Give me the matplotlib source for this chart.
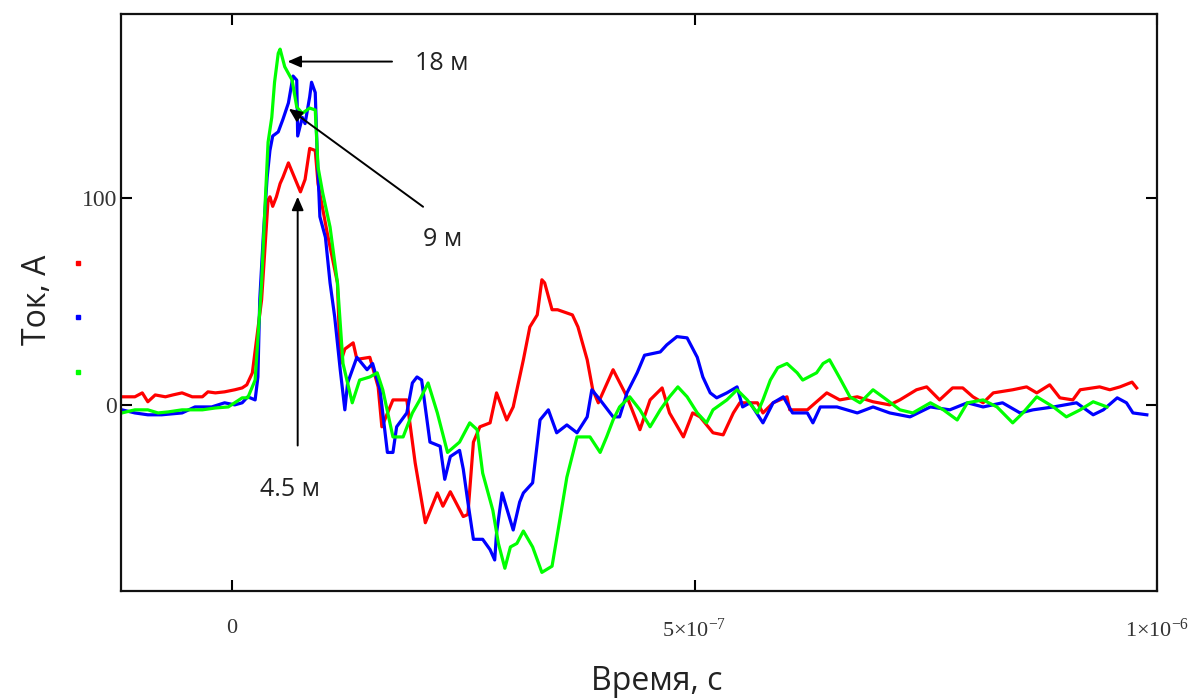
import matplotlib
matplotlib.use("Agg")
import matplotlib.pyplot as plt
from matplotlib.lines import Line2D
import numpy as np

plt.rcParams['mathtext.fontset'] = 'custom'
plt.rcParams['mathtext.rm'] = 'Liberation Serif'
plt.rcParams['mathtext.it'] = 'Liberation Serif:italic'

# time in ns, current in A
red_t = [-119, -105, -97, -91, -83, -72, -64, -54, -43, -32, -26, -18, -8, 3, 11, 16, 22,
         32, 39, 41, 44, 48, 52, 55, 61, 74, 79, 84, 90, 93, 103, 114, 117, 122, 131, 135, 149,
         158, 162, 174, 189, 198, 209, 222, 228, 236, 250, 255, 261, 268, 279, 286, 297, 304,
         315, 322, 330, 335, 338, 346, 352, 368, 374, 384, 390, 396, 412, 427, 441, 452, 465,
         473, 488, 498, 506, 520, 531, 542, 549, 568, 574, 585, 600, 603, 622, 643, 657, 676,
         693, 711, 722, 740, 751, 765, 779, 790, 801, 812, 823, 844, 859, 870, 884, 895, 909,
         917, 938, 949, 960, 973, 978]
red_i = [3.9, 3.9, 5.8, 1.5, 4.8, 3.9, 4.8, 5.8, 3.9, 3.9, 6.3, 5.8, 6.3, 7.3, 8.2, 9.7, 15.5,
         50.8, 99, 100.6, 96, 100.6, 107, 110, 117, 103, 109, 124, 123, 107, 83, 59, 20, 27, 30,
         22, 23, 8.7, -10.6, 2.4, 2.4, -28, -57, -42.6, -49, -42, -54, -53, -18, -10.6, -8.7,
         5.8, -7.3, -1, 21.8, 37.7, 43.5, 60.5, 59, 46, 46, 43.5, 37.7, 21.8, 7.3, 1, 17, 3.9,
         -12, 2.4, 8.2, -3.9, -15.5, -3.9, -5.8, -13.5, -14.5, -3.9, 1, 1, -3.9, 1, 3.9, -2.4,
         -2.4, 5.8, 2.4, 3.9, 1.5, 0, 2.4, 7.3, 8.7, 2.4, 8.2, 8.2, 3.9, 1, 5.8, 7.3, 8.7, 5.8,
         9.7, 3.4, 2.4, 7.3, 8.7, 7.3, 8.7, 11, 8.2]

blue_t = [-119, -105, -91, -76, -54, -40, -22, -8, 3, 11, 17, 25, 28, 30, 34, 38, 41, 44, 50,
          55, 61, 66, 70, 71, 76, 79, 84, 86, 90, 92, 95, 101, 106, 111, 117, 122, 125, 135,
          146, 152, 160, 168, 174, 178, 189, 195, 200, 205, 214, 225, 230, 236, 246, 250, 255,
          261, 271, 279, 284, 286, 292, 304, 311, 315, 325, 333, 342, 351, 362, 373, 384, 389,
          398, 412, 419, 427, 438, 446, 463, 470, 481, 492, 503, 509, 517, 524, 535, 546, 552,
          560, 574, 585, 596, 606, 622, 628, 636, 654, 676, 693, 711, 733, 755, 776, 795, 812,
          833, 852, 866, 888, 913, 931, 942, 957, 967, 974, 989]
blue_i = [-2.4, -3.9, -4.8, -4.8, -3.9, -1, -1, 1, 0, 1, 3.9, 2.4, 13.5, 50.8, 83, 110, 123,
          130, 132, 138, 146, 159, 157, 130, 139, 136, 149, 156, 151, 123, 91, 81, 59, 42.6, 17,
          -2.4, 10.6, 23, 17, 20, 7.3, -23, -23, -10.6, -3.9, 10.6, 13.5, 12, -18, -20, -36,
          -25, -22, -31, -47, -65, -65, -70, -75, -62, -42.6, -60.5, -47, -42.6, -37.7, -7.3,
          -2.4, -13.5, -9.7, -13.5, -5.8, 7.3, 2.4, -5.8, -5.8, 5.8, 15.5, 24, 25.6, 29, 33,
          32.4, 23, 13.5, 5.8, 3.4, 5.8, 8.7, -1, 1, -8.7, 1, 3.9, -3.9, -3.9, -8.7, -1, -1,
          -3.9, -1, -3.9, -5.8, -1, -2.4, 1, -1, 1, -3.9, -2.4, -1, 1, -4.8, -2.4, 3.4, 1, -3.9,
          -4.8]

green_t = [-119, -105, -91, -80, -69, -54, -32, -18, -4, 11, 17, 25, 32, 36, 39, 43, 46, 50,
           52, 57, 65, 70, 76, 84, 90, 93, 98, 106, 114, 120, 130, 138, 149, 157, 163, 174, 185,
           195, 203, 212, 222, 233, 246, 257, 265, 271, 282, 288, 295, 301, 308, 315, 325, 335,
           346, 355, 362, 373, 387, 398, 405, 412, 419, 430, 441, 452, 463, 473, 482, 492, 503,
           513, 520, 535, 546, 557, 568, 574, 582, 590, 600, 611, 617, 632, 639, 646, 657, 668,
           679, 693, 708, 722, 736, 755, 769, 784, 795, 812, 827, 844, 855, 870, 888, 902, 917,
           931, 946]
green_i = [-3.9, -2.4, -2.4, -3.9, -3.4, -2.4, -2.4, -1.5, -1, 3.4, 3.4, 12, 59, 99, 127, 139,
           156, 170, 172, 163.5, 157, 144, 141, 143.5, 142.6, 115, 102.6, 86, 59, 20, 1, 12,
           13.5, 15.5, 7.3, -15.5, -15.5, -3.9, 2.4, 10.6, -3.9, -23, -18, -8.7, -12, -33, -51,
           -67, -79, -68.7, -67, -61, -68.7, -81, -78, -54, -35, -15.5, -15.5, -23, -15.5, -7.3,
           -1, 3.9, -2.4, -10.6, -2.4, 3.9, 8.7, 3.9, -3.9, -8.7, -2.4, 2.4, 7.3, 2.4, -3.9,
           2.4, 12, 18, 20, 15.5, 12, 15.5, 20, 21.8, 13, 3.9, 1, 7.3, 2.4, -2.4, -3.9, 1, -2.4,
           -7.3, 1, 2.4, -1, -8.7, -3.9, 3.9, -1, -5.8, -2.4, 1.5, -1]

x_ticks = [0, 5e-7, 1e-6]
x_tick_labels = ['0', r'$5{\times}10^{-7}$', r'$1{\times}10^{-6}$']
y_ticks = [0, 100]
y_tick_labels = ['0', '100']

fig = plt.figure(figsize=(12, 6.98), dpi=100)
ax = fig.add_axes([121/1200, 1 - 591/698, (1157-121)/1200, (591-14)/698])

for t, i, c in [(red_t, red_i, '#ff0000'), (blue_t, blue_i, '#0000ff'), (green_t, green_i, '#00ff00')]:
    ax.plot(np.array(t) * 1e-9, i, color=c, lw=2.3)

ax.set_xlim(-1.2e-7, 1e-6)
ax.set_ylim(-90, 189)

for s in ax.spines.values():
    s.set_linewidth(1.6)
    s.set_color('#111111')

ax.set_xticks(x_ticks)
ax.set_xticklabels(x_tick_labels, fontfamily='Liberation Serif', fontsize=16, color='#333333')
ax.set_yticks(y_ticks)
ax.set_yticklabels(y_tick_labels, fontfamily='Liberation Serif', fontsize=17, color='#333333')
ax.tick_params(axis='both', direction='in', length=8, width=1.5, top=True, right=True)
ax.tick_params(axis='x', pad=20)
ax.tick_params(axis='y', pad=3)

fam = ['Open Sans', 'DejaVu Sans']
ax.annotate('', xy=(57e-9, 166), xytext=(176e-9, 166),
            arrowprops=dict(arrowstyle='-|>,head_length=0.8,head_width=0.35', color='black', lw=1.4))
ax.text(198e-9, 165, '18 м', fontsize=18, family=fam, va='center', ha='left', color='#222222')
ax.annotate('', xy=(59e-9, 144), xytext=(209e-9, 95),
            arrowprops=dict(arrowstyle='-|>,head_length=0.8,head_width=0.35', color='black', lw=1.4))
ax.text(228e-9, 80, '9 м', fontsize=18, family=fam, va='center', ha='center', color='#222222')
ax.annotate('', xy=(71e-9, 102), xytext=(71e-9, -21),
            arrowprops=dict(arrowstyle='-|>,head_length=0.8,head_width=0.35', color='black', lw=1.4))
ax.text(63e-9, -41, '4.5 м', fontsize=18, family=fam, va='center', ha='center', color='#222222')

fig.text(37/1200, 1 - 300/698, 'Ток, А', rotation=90, fontsize=23, family=fam,
         ha='center', va='center', color='#222222')
fig.text(657/1200, 1 - 682/698, 'Время, с', fontsize=23, family=fam,
         ha='center', va='center', color='#222222')

for yy, c in [(263, '#ff0000'), (317, '#0000ff'), (372, '#00ff00')]:
    fig.add_artist(Line2D([78/1200], [1 - yy/698], marker='s', markersize=2.5,
                          color=c, linestyle='none', transform=fig.transFigure))

fig.savefig('out.png', dpi=100)
